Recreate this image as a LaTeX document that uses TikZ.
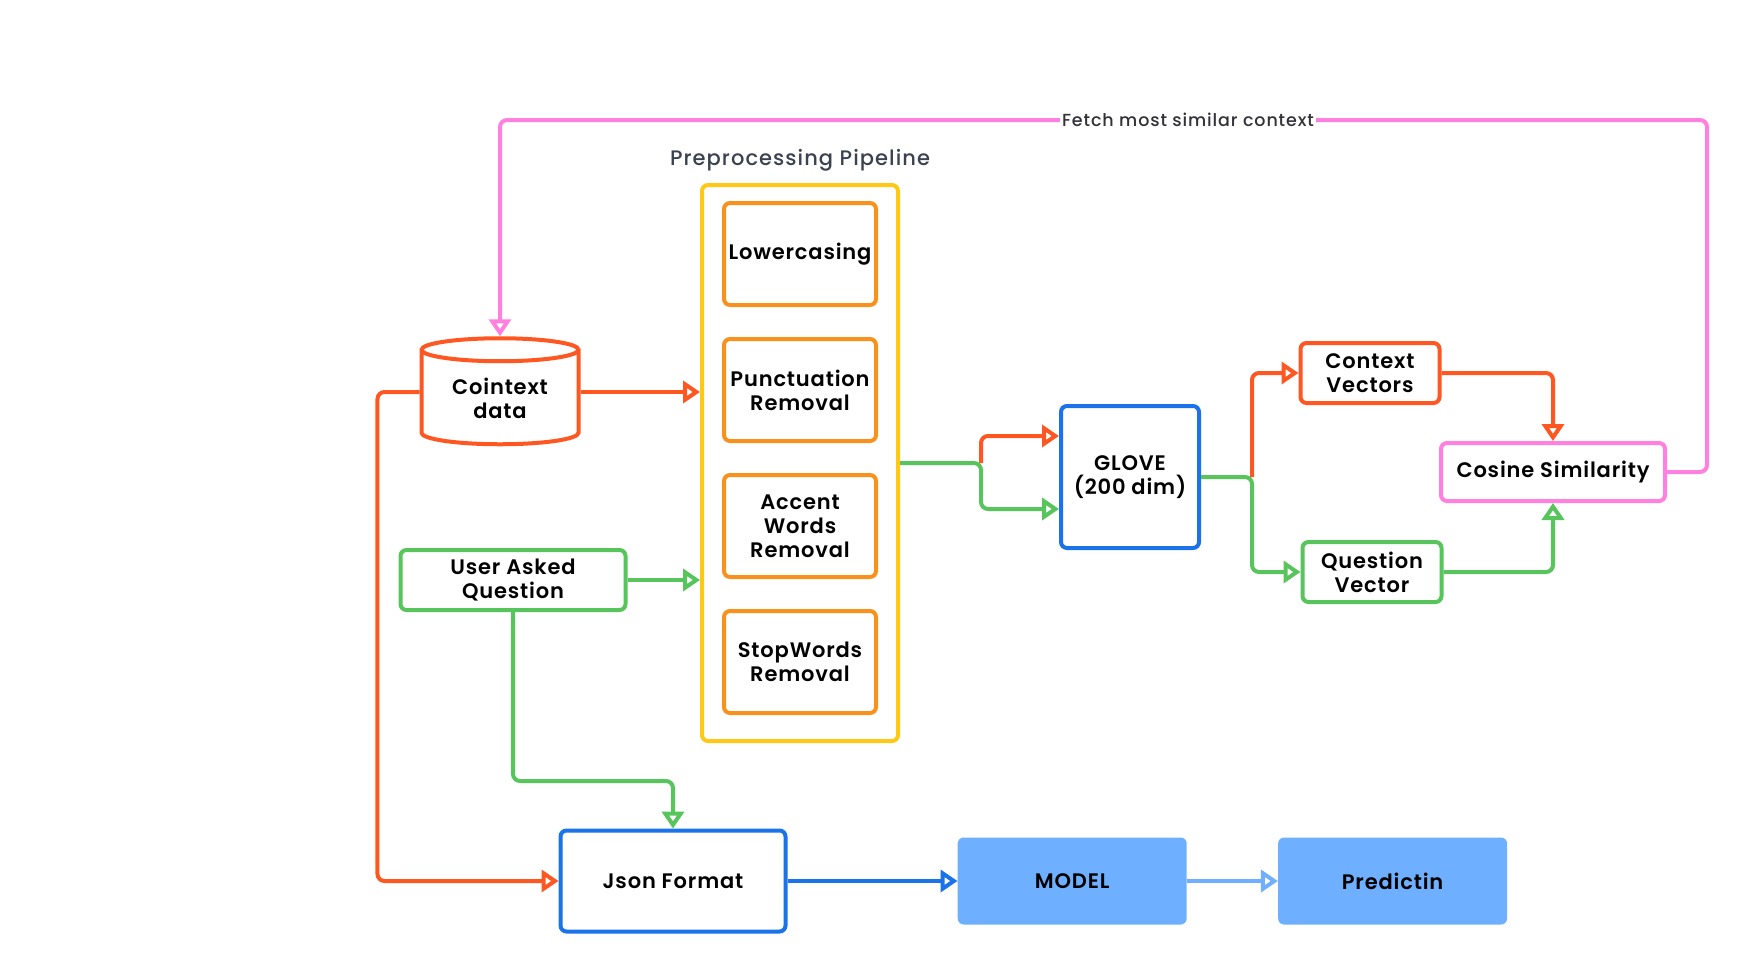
\documentclass[tikz,border=0pt]{standalone}
\usepackage{fontspec}
\setmainfont{Poppins}
\newfontfamily\semifont{Poppins SemiBold}[LetterSpace=4]
\newfontfamily\medfont{Poppins Medium}[LetterSpace=5]
\usepackage{xcolor}
\usepackage{tikz}
\usetikzlibrary{shapes.geometric,arrows.meta,positioning}
\definecolor{flowred}{RGB}{255,87,34}
\definecolor{steporange}{RGB}{248,146,28}
\definecolor{pipeyellow}{RGB}{255,200,20}
\definecolor{askgreen}{RGB}{88,196,92}
\definecolor{jsonblue}{RGB}{26,115,232}
\definecolor{modelblue}{RGB}{110,176,255}
\definecolor{cosinepink}{RGB}{255,128,223}
\definecolor{titlegray}{RGB}{58,65,80}
\definecolor{fetchgray}{RGB}{50,50,55}

\begin{document}
\begin{tikzpicture}[
    x=1pt, y=-1pt,
    box/.style={rectangle, draw, rounded corners=6pt, line width=4pt, fill=white, align=center, inner sep=0pt, font=\semifont\fontsize{21}{24}\selectfont},
    stepbox/.style={box, draw=steporange, minimum width=152pt, minimum height=102pt},
    dbstyle/.style={cylinder, shape border rotate=90, aspect=0.24, draw=flowred, line width=4pt, fill=white, minimum width=157pt, minimum height=106pt, inner sep=0pt, align=center, font=\semifont\fontsize{21}{24}\selectfont},
    solid/.style={rectangle, rounded corners=6pt, fill=modelblue, minimum width=229pt, minimum height=87pt, font=\semifont\fontsize{21}{24}\selectfont},
    arrow/.style={line width=4pt, rounded corners=7pt, -{Triangle[open, length=17pt, width=22pt]}}
]
\useasboundingbox (0,0) rectangle (1751,974);

% Inputs
\node[dbstyle] (data) at (500,398) {Cointext\\data};
\node[box, draw=askgreen, minimum width=225pt, minimum height=60pt] (user) at (513,580) {User Asked\\Question};

% Preprocessing pipeline
\node[rectangle, draw=pipeyellow, line width=4pt, rounded corners=6pt, minimum width=196pt, minimum height=556pt] (pipe) at (800,463) {};
\node[above=8pt of pipe, font=\medfont\fontsize{21}{24}\selectfont, text=titlegray] (ptitle) {Preprocessing Pipeline};
\node[stepbox] (lower) at (800,254) {Lowercasing};
\node[stepbox, below=30pt of lower] (punct) {Punctuation\\Removal};
\node[stepbox, below=30pt of punct] (accent) {Accent\\Words\\Removal};
\node[stepbox, below=30pt of accent] (stopw) {StopWords\\Removal};

% Embedding and similarity
\node[box, draw=jsonblue, minimum width=138pt, minimum height=142pt] (glove) at (1130,477) {GLOVE\\(200 dim)};
\node[box, draw=flowred, minimum width=139pt, minimum height=60pt] (ctx) at (1370,373) {Context\\Vectors};
\node[box, draw=askgreen, minimum width=139pt, minimum height=60pt] (qvec) at (1372,572) {Question\\Vector};
\node[box, draw=cosinepink, minimum width=224pt, minimum height=58pt] (cos) at (1553,472) {Cosine Similarity};

% Bottom row
\node[box, draw=jsonblue, minimum width=225pt, minimum height=101pt] (json) at (673,881) {Json Format};
\node[solid, right=170pt of json] (model) {MODEL};
\node[solid, right=91pt of model] (pred) {Predictin};

% Arrows
\draw[arrow, flowred] ([yshift=6pt]data.east) -- ([yshift=6pt]data.east -| pipe.west);
\draw[arrow, askgreen] (user.east) -- (user.east -| pipe.west);
\draw[arrow, flowred] ([yshift=6pt]data.west) -- ++(-42,0) |- (json.west);
\draw[arrow, askgreen] (user.south) -- ++(0,169) -| (json.north);
\draw[arrow, jsonblue] (json) -- (model);
\draw[arrow, modelblue] (model) -- (pred);

\coordinate (psplit) at ([xshift=81pt]pipe.east);
\draw[arrow, askgreen] (pipe.east) -- (psplit) |- ([yshift=-32pt]glove.west);
\draw[arrow, flowred] (psplit) |- ([yshift=41pt]glove.west);

\coordinate (gsplit) at ([xshift=51pt]glove.east);
\draw[arrow, askgreen] (glove.east) -- (gsplit) |- (qvec.west);
\draw[arrow, flowred] (gsplit) |- (ctx.west);

\draw[arrow, flowred] (ctx.east) -| (cos.north);
\draw[arrow, askgreen] (qvec.east) -| (cos.south);

% Feedback loop
\coordinate (loopr) at (1707,120);
\coordinate (loopl) at (500,120);
\draw[arrow, cosinepink] (cos.east) -| (loopr) -- node[pos=0.43, fill=white, inner sep=2pt, font=\medfont\fontsize{17.5}{20}\selectfont, text=fetchgray] (fetch) {Fetch most similar context} (loopl) -- (data.north);

\end{tikzpicture}
\end{document}
